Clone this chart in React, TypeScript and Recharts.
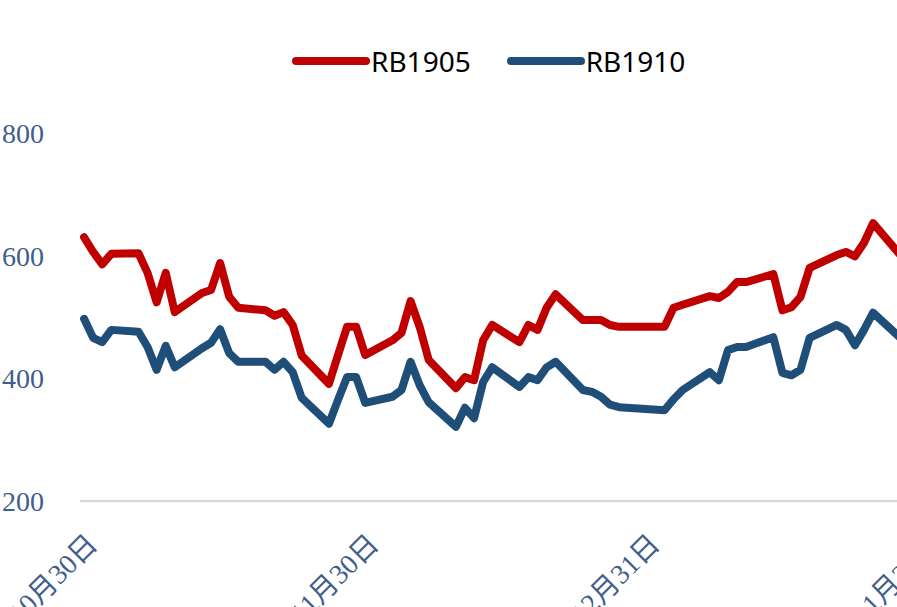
import { LineChart, Line, XAxis, YAxis, Legend } from "recharts";

const dates = [
  "2018-10-30", "2018-10-31", "2018-11-01", "2018-11-02", "2018-11-05", "2018-11-06",
  "2018-11-07", "2018-11-08", "2018-11-09", "2018-11-12", "2018-11-13", "2018-11-14",
  "2018-11-15", "2018-11-16", "2018-11-19", "2018-11-20", "2018-11-21", "2018-11-22",
  "2018-11-23", "2018-11-26", "2018-11-27", "2018-11-28", "2018-11-29", "2018-11-30",
  "2018-12-03", "2018-12-04", "2018-12-05", "2018-12-06", "2018-12-07", "2018-12-10",
  "2018-12-11", "2018-12-12", "2018-12-13", "2018-12-14", "2018-12-17", "2018-12-18",
  "2018-12-19", "2018-12-20", "2018-12-21", "2018-12-24", "2018-12-25", "2018-12-26",
  "2018-12-27", "2018-12-28", "2019-01-02", "2019-01-03", "2019-01-04", "2019-01-07",
  "2019-01-08", "2019-01-09", "2019-01-10", "2019-01-11", "2019-01-14", "2019-01-15",
  "2019-01-16", "2019-01-17", "2019-01-18", "2019-01-21", "2019-01-22", "2019-01-23",
  "2019-01-24", "2019-01-25", "2019-01-28",
];

const rb1905 = [
  630, 606, 586, 603, 604, 572, 524, 572, 508, 539, 544, 588, 533, 515, 511, 502,
  508, 487, 437, 391, 438, 484, 484, 438, 462, 474, 526, 484, 430, 384, 402, 397,
  462, 487, 459, 487, 479, 515, 537, 495, 495, 495, 487, 484, 484, 515, 520, 534,
  531, 541, 557, 557, 570, 511, 516, 533, 580, 601, 606, 599, 621, 653, 601,
];

const rb1910 = [
  497, 466, 459, 479, 476, 451, 414, 453, 418, 449, 458, 480, 441, 427, 427, 414,
  427, 410, 368, 326, 365, 402, 402, 360, 370, 381, 427, 389, 361, 321, 352, 335,
  394, 418, 386, 402, 397, 418, 427, 381, 378, 370, 357, 353, 348, 366, 381, 410,
  397, 446, 451, 451, 467, 409, 405, 414, 466, 487, 479, 454, 479, 507, 466,
];

const tickDates = ["2018-10-30", "2018-11-30", "2018-12-31", "2019-01-31"];
const tickLabels = ["10月30日", "11月30日", "12月31日", "1月31日"];
const yTicks = [200, 400, 600, 800];

const series = [
  { key: "RB1905", values: rb1905, color: "#C00000" },
  { key: "RB1910", values: rb1910, color: "#1F4E79" },
];

const DAY = 86400000;
const dayOf = (s: string) => (Date.parse(s) - Date.parse(dates[0])) / DAY;

const data = dates.map((d, i) => ({
  day: dayOf(d),
  RB1905: rb1905[i],
  RB1910: rb1910[i],
}));

const xTicks = tickDates.map(dayOf);
const labelFor = (v: number) => tickLabels[xTicks.indexOf(v)] ?? "";

const axisColor = "#3F5E8C";

const YTick = (props: any) => {
  const { y, payload } = props;
  return (
    <text
      x={44}
      y={y}
      dy={10}
      textAnchor="end"
      fontSize={28}
      fontFamily="'Liberation Serif', serif"
      fill={axisColor}
    >
      {payload.value}
    </text>
  );
};

const XTick = (props: any) => {
  const { x, payload } = props;
  const ax = x + 15;
  const ay = 546;
  return (
    <text
      x={ax}
      y={ay}
      textAnchor="end"
      transform={`rotate(-45 ${ax} ${ay})`}
      fontSize={28}
      fontFamily="'Liberation Serif', 'Noto Sans CJK SC', serif"
      fill={axisColor}
    >
      {labelFor(payload.value)}
    </text>
  );
};

const LegendBox = () => (
  <div style={{ display: "flex", alignItems: "center", fontFamily: "'Noto Sans', sans-serif" }}>
    {series.map((s, i) => (
      <div
        key={s.key}
        style={{ display: "flex", alignItems: "center", marginLeft: i === 0 ? 0 : 36 }}
      >
        <svg width={78} height={12}>
          <line x1={4} y1={6} x2={74} y2={6} stroke={s.color} strokeWidth={8} strokeLinecap="round" />
        </svg>
        <span style={{ fontSize: 28, color: "#000", marginLeft: 1, lineHeight: "34px" }}>{s.key}</span>
      </div>
    ))}
  </div>
);

export default function App() {
  return (
    <div
      style={{
        position: "fixed",
        left: 0,
        top: 0,
        width: 897,
        height: 607,
        overflow: "hidden",
        background: "#fff",
      }}
    >
      <LineChart
        width={1000}
        height={607}
        data={data}
        margin={{ top: 133, right: 9, bottom: 6, left: 0 }}
      >
        <XAxis
          dataKey="day"
          type="number"
          domain={[-0.45, 100]}
          ticks={xTicks}
          interval={0}
          axisLine={{ stroke: "#D9D9D9", strokeWidth: 2.5 }}
          tickLine={false}
          tick={<XTick />}
          height={100}
        />
        <YAxis
          domain={[200, 800]}
          ticks={yTicks}
          interval={0}
          axisLine={false}
          tickLine={false}
          tick={<YTick />}
          width={80}
        />
        <Legend
          layout="horizontal"
          verticalAlign="middle"
          align="center"
          content={<LegendBox />}
          wrapperStyle={{ top: 44, left: 292, width: "auto" }}
        />
        {series.map((s) => (
          <Line
            key={s.key}
            dataKey={s.key}
            type="linear"
            stroke={s.color}
            strokeWidth={8}
            strokeLinejoin="round"
            strokeLinecap="round"
            dot={false}
            activeDot={false}
            isAnimationActive={false}
          />
        ))}
      </LineChart>
    </div>
  );
}
